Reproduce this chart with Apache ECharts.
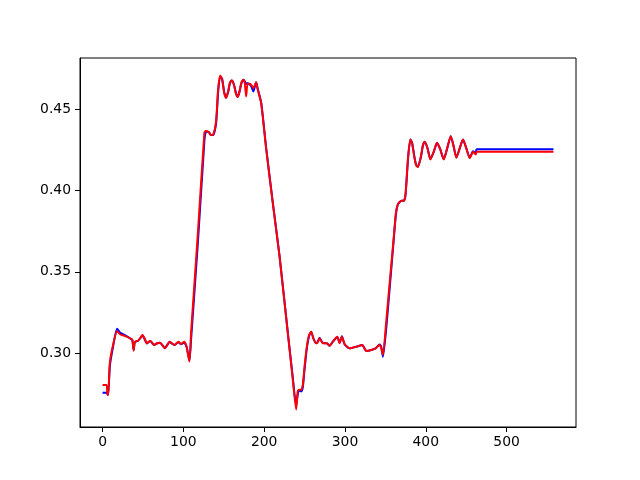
<!DOCTYPE html>
<html>
<head>
<meta charset="utf-8">
<script src="https://cdn.jsdelivr.net/npm/echarts@6/dist/echarts.min.js"></script>
<style>html,body{margin:0;padding:0;background:#fff;}#c{width:640px;height:480px;}</style>
</head>
<body>
<div id="c"></div>
<script>
const xs = [0,5,6,7,9,13,18,22,28,36,37,38.5,40,44,47,49.5,52,55,59,64,67,71,74,77,80,83,86,89,94,97,101,104,107.5,109.5,118,126,127.5,129.5,132,134,137,140.5,143,145.5,148,150.5,152.9,155.5,157.5,159.9,162.5,165,167.3,169.5,172,174.4,176,177.7,179.5,182,184,186.7,190,192,196.3,202.5,210.7,219,229.3,235,239.6,241.5,243,245.8,247.8,250,252.8,255.5,258.2,261,264.4,266.5,268.5,272.6,277.6,280.9,285,290.5,293.3,296.2,299.5,305.7,314,321.4,326.4,332.6,337.9,342.9,345,347,351.2,356,360.2,363,365.6,369.8,373,375,378,380.9,383,386,388,390.3,394,396.5,398.6,402,405.7,410,413.9,418,422.2,426.5,430.9,434,437.9,442,446.1,450,454.4,458.5,461.8,463,558];

const blueVals = [0.2757,0.2757,0.2750,0.2745,0.2920,0.3040,0.3150,0.3125,0.3110,0.3085,0.3080,0.3020,0.3068,0.3077,0.3095,0.3110,0.3088,0.3060,0.3075,0.3050,0.3060,0.3065,0.3050,0.3031,0.3050,0.3070,0.3058,0.3050,0.3068,0.3055,0.3065,0.3040,0.2955,0.3080,0.3680,0.4300,0.4355,0.4360,0.4355,0.4340,0.4340,0.4410,0.4600,0.4700,0.4685,0.4605,0.4570,0.4605,0.4655,0.4675,0.4652,0.4600,0.4575,0.4605,0.4660,0.4679,0.4670,0.4655,0.4658,0.4650,0.4640,0.4607,0.4664,0.4625,0.4540,0.4260,0.3925,0.3600,0.3125,0.2870,0.2680,0.2745,0.2772,0.2765,0.2790,0.2900,0.3030,0.3105,0.3132,0.3090,0.3061,0.3072,0.3095,0.3063,0.3061,0.3046,0.3071,0.3100,0.3065,0.3105,0.3055,0.3030,0.3040,0.3050,0.3014,0.3020,0.3030,0.3053,0.3035,0.2978,0.3160,0.3440,0.3690,0.3850,0.3915,0.3936,0.3936,0.3975,0.4190,0.4313,0.4295,0.4205,0.4158,0.4145,0.4205,0.4275,0.4298,0.4262,0.4192,0.4238,0.4292,0.4252,0.4192,0.4258,0.4333,0.4282,0.4202,0.4258,0.4313,0.4262,0.4200,0.4240,0.4230,0.4253,0.4253];

const redVals = [0.2805,0.2805,0.2745,0.2745,0.2940,0.3050,0.3135,0.3115,0.3105,0.3087,0.3080,0.3016,0.3070,0.3077,0.3095,0.3112,0.3090,0.3061,0.3077,0.3051,0.3060,0.3065,0.3050,0.3031,0.3050,0.3071,0.3060,0.3051,0.3071,0.3057,0.3071,0.3040,0.2949,0.3122,0.3740,0.4353,0.4365,0.4363,0.4355,0.4339,0.4342,0.4424,0.4620,0.4705,0.4680,0.4600,0.4567,0.4610,0.4660,0.4675,0.4650,0.4595,0.4573,0.4610,0.4665,0.4679,0.4660,0.4577,0.4655,0.4655,0.4648,0.4628,0.4664,0.4620,0.4536,0.4255,0.3920,0.3595,0.3122,0.2860,0.2654,0.2766,0.2775,0.2776,0.2806,0.2920,0.3040,0.3110,0.3132,0.3090,0.3061,0.3070,0.3092,0.3061,0.3061,0.3046,0.3071,0.3101,0.3061,0.3101,0.3057,0.3030,0.3040,0.3051,0.3014,0.3020,0.3030,0.3051,0.3030,0.2990,0.3203,0.3470,0.3702,0.3860,0.3916,0.3936,0.3936,0.3980,0.4200,0.4313,0.4290,0.4200,0.4155,0.4143,0.4210,0.4280,0.4298,0.4260,0.4190,0.4240,0.4292,0.4250,0.4190,0.4260,0.4333,0.4280,0.4200,0.4260,0.4313,0.4260,0.4197,0.4237,0.4221,0.4237,0.4237];

const xTicks = [0,100,200,300,400,500];
const yTicks = [0.30,0.35,0.40,0.45];

const pair = (ys) => xs.map((x, i) => [x, ys[i]]);
const font = {fontFamily: 'DejaVu Sans', fontSize: 13.9, color: '#000'};

const chart = echarts.init(document.getElementById('c'), null, {renderer: 'canvas'});
chart.setOption({
  animation: false,
  backgroundColor: '#fff',
  grid: {left: 80, right: 64, top: 58, bottom: 53, show: true, borderColor: '#000', borderWidth: 1, backgroundColor: 'transparent'},
  xAxis: {
    type: 'value', min: -27.9, max: 585.9,
    axisLine: {show: true, onZero: false, lineStyle: {color: '#000', width: 1}},
    axisTick: {show: true, inside: false, length: 5, customValues: xTicks, lineStyle: {color: '#000', width: 1}},
    axisLabel: Object.assign({show: true, margin: 8, customValues: xTicks, formatter: v => String(v)}, font),
    splitLine: {show: false}
  },
  yAxis: {
    type: 'value', min: 0.2547, max: 0.4813,
    axisLine: {show: true, onZero: false, lineStyle: {color: '#000', width: 1}},
    axisTick: {show: true, inside: false, length: 5, customValues: yTicks, lineStyle: {color: '#000', width: 1}},
    axisLabel: Object.assign({show: true, margin: 9, customValues: yTicks, formatter: v => v.toFixed(2)}, font),
    splitLine: {show: false}
  },
  series: [
    {type: 'line', data: pair(blueVals), showSymbol: false, symbol: 'none', smooth: 0.2, lineStyle: {color: '#0000ff', width: 2}, itemStyle: {color: '#0000ff'}},
    {type: 'line', data: pair(redVals), showSymbol: false, symbol: 'none', smooth: 0.2, lineStyle: {color: '#ff0000', width: 2}, itemStyle: {color: '#ff0000'}}
  ]
});
</script>
</body>
</html>
